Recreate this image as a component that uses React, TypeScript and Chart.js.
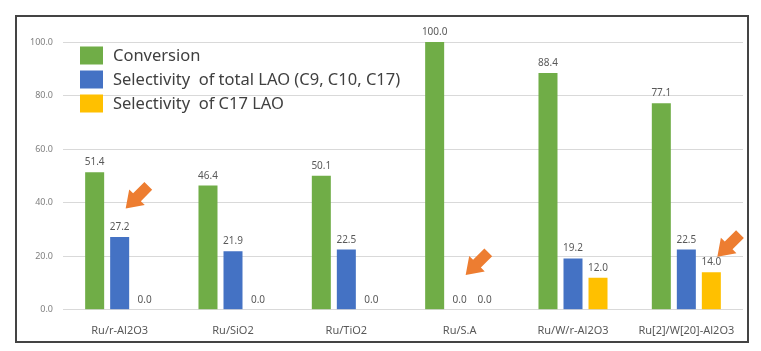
import React, { useEffect, useRef } from "react";
import { Chart, registerables } from "chart.js";

Chart.register(...registerables);

const categories = ["Ru/r-Al2O3", "Ru/SiO2", "Ru/TiO2", "Ru/S.A", "Ru/W/r-Al2O3", "Ru[2]/W[20]-Al2O3"];
const conversion = [51.4, 46.4, 50.1, 100.0, 88.4, 77.1];
const selectivityTotalLAO = [27.2, 21.9, 22.5, 0.0, 19.2, 22.5];
const selectivityC17LAO = [0.0, 0.0, 0.0, 0.0, 12.0, 14.0];
const seriesLabels = ["Conversion", "Selectivity  of total LAO (C9, C10, C17)", "Selectivity  of C17 LAO"];
const seriesColors = ["#70AD47", "#4472C4", "#FFC000"];
const yMin = 0;
const yMax = 100;
const yStep = 20;
// arrow annotations: tip anchored at a category / dataset bar, at a value
const arrowMarks = [
  { category: 0, dataset: 1, value: 37.8 },
  { category: 3, dataset: 1, value: 13.0 },
  { category: 5, dataset: 2, value: 19.8 },
];

const FONT = "'Noto Sans', 'DejaVu Sans', sans-serif";

const dataLabelPlugin = {
  id: "dataLabels",
  afterDatasetsDraw(chart: any) {
    const ctx = chart.ctx;
    ctx.save();
    ctx.font = `10px ${FONT}`;
    ctx.fillStyle = "#595959";
    ctx.textAlign = "center";
    ctx.textBaseline = "alphabetic";
    chart.data.datasets.forEach((ds: any, i: number) => {
      const meta = chart.getDatasetMeta(i);
      meta.data.forEach((el: any, j: number) => {
        const v = ds.data[j] as number;
        ctx.fillText(v.toFixed(1), el.x, el.y - 7);
      });
    });
    ctx.restore();
  },
};

const legendPlugin = {
  id: "customLegend",
  afterDraw(chart: any) {
    const ctx = chart.ctx;
    const area = chart.chartArea;
    const left = area.left + 17;
    const top = area.top + 4.5;
    ctx.save();
    ctx.font = `16.5px ${FONT}`;
    ctx.textBaseline = "middle";
    ctx.textAlign = "left";
    chart.data.datasets.forEach((ds: any, i: number) => {
      const y = top + i * 24;
      ctx.fillStyle = ds.backgroundColor;
      ctx.fillRect(left, y, 23, 18);
      ctx.fillStyle = "#404040";
      ctx.fillText(ds.label, left + 33, y + 9.5);
    });
    ctx.restore();
  },
};

const arrowPlugin = {
  id: "arrows",
  afterDatasetsDraw(chart: any) {
    const ctx = chart.ctx;
    const yScale = chart.scales.y;
    ctx.save();
    ctx.fillStyle = "#ED7D31";
    arrowMarks.forEach((a) => {
      const el = chart.getDatasetMeta(a.dataset).data[a.category];
      const tx = el.x + 6;
      const ty = yScale.getPixelForValue(a.value);
      const len = 32;
      const headLen = 16;
      const headHalf = 11;
      const shaftHalf = 5.5;
      ctx.save();
      ctx.translate(tx, ty);
      ctx.rotate(-Math.PI / 4);
      ctx.beginPath();
      ctx.moveTo(0, 0);
      ctx.lineTo(headLen, -headHalf);
      ctx.lineTo(headLen, -shaftHalf);
      ctx.lineTo(len, -shaftHalf);
      ctx.lineTo(len, shaftHalf);
      ctx.lineTo(headLen, shaftHalf);
      ctx.lineTo(headLen, headHalf);
      ctx.closePath();
      ctx.fill();
      ctx.restore();
    });
    ctx.restore();
  },
};

export default function App() {
  const canvasRef = useRef<HTMLCanvasElement | null>(null);

  useEffect(() => {
    document.body.style.margin = "0";
    const canvas = canvasRef.current;
    if (!canvas) return;
    const seriesData = [conversion, selectivityTotalLAO, selectivityC17LAO];
    const chart = new Chart(canvas, {
      type: "bar",
      data: {
        labels: categories,
        datasets: seriesData.map((d, i) => ({
          label: seriesLabels[i],
          data: d,
          backgroundColor: seriesColors[i],
          borderWidth: 0,
          barPercentage: 0.76,
          categoryPercentage: 0.662,
        })),
      },
      options: {
        responsive: false,
        animation: false,
        devicePixelRatio: 1,
        layout: { padding: { left: 0, right: 18, top: 42, bottom: 0 } },
        plugins: {
          legend: { display: false },
          tooltip: { enabled: false },
          title: { display: false },
        },
        scales: {
          x: {
            grid: { display: false, drawTicks: false },
            border: { display: false },
            ticks: {
              font: { family: FONT, size: 11 },
              color: "#595959",
              padding: 14,
              maxRotation: 0,
              autoSkip: false,
            },
          },
          y: {
            min: yMin,
            max: yMax,
            grid: { color: "#D9D9D9", drawTicks: false, lineWidth: 1 },
            border: { display: false },
            afterFit: (scale: any) => {
              scale.width = 63;
            },
            ticks: {
              stepSize: yStep,
              font: { family: FONT, size: 9 },
              color: "#7F7F7F",
              padding: 10,
              callback: (v: any) => Number(v).toFixed(1),
            },
          },
        },
      },
      plugins: [dataLabelPlugin, arrowPlugin, legendPlugin],
    });
    return () => chart.destroy();
  }, []);

  return (
    <div style={{ position: "fixed", left: 0, top: 0, width: 761, height: 351, background: "#fff" }}>
      <canvas ref={canvasRef} width={761} height={351} style={{ display: "block" }} />
      <div
        style={{
          position: "absolute",
          left: 15,
          top: 15,
          width: 730,
          height: 324,
          border: "2px solid #444",
          pointerEvents: "none",
        }}
      />
    </div>
  );
}
